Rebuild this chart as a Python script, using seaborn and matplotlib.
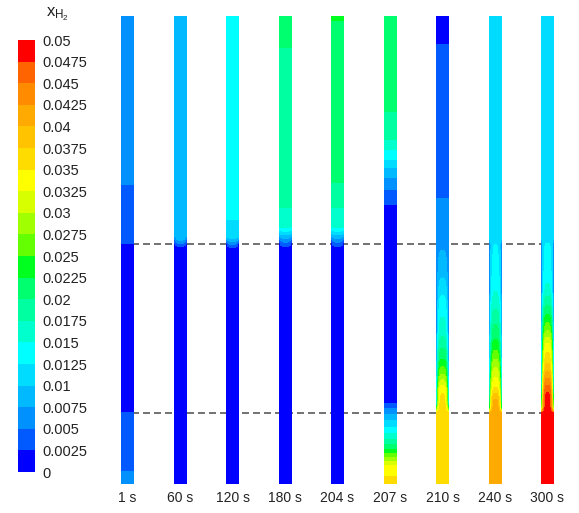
import numpy as np
import matplotlib
matplotlib.use("Agg")
import matplotlib.pyplot as plt
from matplotlib.colors import ListedColormap, BoundaryNorm
import seaborn as sns

# Snapshot times, one column each
TIMES = ["1 s", "60 s", "120 s", "180 s", "204 s", "207 s", "210 s", "240 s", "300 s"]

# Discrete colour levels of the hydrogen mole fraction (0 .. 0.05, step 0.0025)
LEVEL_BOUNDS = [0.0, 0.0025, 0.005, 0.0075, 0.01, 0.0125, 0.015, 0.0175, 0.02, 0.0225,
                0.025, 0.0275, 0.03, 0.0325, 0.035, 0.0375, 0.04, 0.0425, 0.045, 0.0475, 0.05]
LEVEL_COLORS = ["#0000ff", "#005aff", "#0091ff", "#00b9ff", "#00dcff", "#00ffff",
                "#00ffcd", "#00ffa0", "#00ff6e", "#00ff1e", "#64ff00", "#a0ff00",
                "#d7ff00", "#ffff00", "#ffdc00", "#ffc300", "#ffaa00", "#ff8c00",
                "#ff6400", "#ff0000"]

# Column height and the two zone interfaces (m)
COLUMN_HEIGHT = 4.68
INTERFACES = [0.71, 2.40]

# Axial profiles: heights (m), centre-line value, wall value
Z_1 = [0.00, 0.12, 0.13, 0.71, 0.72, 2.40, 2.41, 2.98, 2.99, 4.68]
C_1 = [0.00625, 0.00625, 0.00375, 0.00375, 0.00125, 0.00125, 0.00375, 0.00375, 0.00625, 0.00625]
W_1 = C_1

Z_60 = [0.00, 2.36, 2.40, 2.44, 2.48, 4.68]
C_60 = [0.00125, 0.00125, 0.00500, 0.00800, 0.00875, 0.00875]
W_60 = [0.00125, 0.00125, 0.00125, 0.00400, 0.00875, 0.00875]

Z_120 = [0.00, 2.35, 2.40, 2.44, 2.47, 2.48, 2.63, 2.65, 4.68]
C_120 = [0.00125, 0.00125, 0.0060, 0.0090, 0.01125, 0.01125, 0.01125, 0.01375, 0.01375]
W_120 = [0.00125, 0.00125, 0.00125, 0.0070, 0.0110, 0.01125, 0.01125, 0.01375, 0.01375]

Z_180 = [0.00, 2.35, 2.40, 2.58, 2.76, 2.77, 4.36, 4.37, 4.68]
C_180 = [0.00125, 0.00125, 0.0040, 0.01625, 0.01625, 0.01875, 0.01875, 0.02125, 0.02125]
W_180 = [0.00125, 0.00125, 0.00125, 0.0160, 0.01625, 0.01875, 0.01875, 0.02125, 0.02125]

Z_204 = [0.00, 2.35, 2.40, 2.58, 2.76, 2.77, 3.00, 3.01, 4.63, 4.64, 4.68]
C_204 = [0.00125, 0.00125, 0.0040, 0.01625, 0.01625, 0.01875, 0.01875, 0.02125, 0.02125, 0.02375, 0.02375]
W_204 = [0.00125, 0.00125, 0.00125, 0.0160, 0.01625, 0.01875, 0.01875, 0.02125, 0.02125, 0.02375, 0.02375]

Z_207 = [0.00, 0.06, 0.10, 0.17, 0.35, 0.45, 0.55, 0.65, 0.75, 0.81, 0.82,
         2.78, 2.79, 2.94, 3.06, 3.16, 3.24, 3.34, 3.44, 3.72, 3.73, 4.68]
C_207 = [0.03625, 0.03625, 0.03375, 0.0335, 0.0225, 0.0175, 0.0135, 0.0095, 0.0055, 0.0026, 0.00125,
         0.00125, 0.0024, 0.0051, 0.0076, 0.0101, 0.0126, 0.0151, 0.0176, 0.0199, 0.02125, 0.02125]
W_207 = C_207

Z_210 = [0.00, 0.70, 0.71, 0.80, 0.95, 1.10, 1.25, 1.50, 1.85, 2.10, 2.40, 2.45,
         2.86, 2.87, 4.40, 4.41, 4.68]
C_210 = [0.03625, 0.03625, 0.0365, 0.0362, 0.0345, 0.0275, 0.0225, 0.0170, 0.0130, 0.0095, 0.0070, 0.00625,
         0.00625, 0.00375, 0.00375, 0.00125, 0.00125]
W_210 = [0.03625, 0.03625, 0.0360, 0.0120, 0.0090, 0.0070, 0.0055, 0.0045, 0.0040, 0.0040, 0.0050, 0.00625,
         0.00625, 0.00375, 0.00375, 0.00125, 0.00125]

Z_240 = [0.00, 0.70, 0.71, 0.76, 0.85, 0.97, 1.15, 1.30, 1.45, 1.60, 1.90, 2.15, 2.40, 2.45, 4.68]
C_240 = [0.04125, 0.04125, 0.0415, 0.0412, 0.0400, 0.0350, 0.0305, 0.0260, 0.0225, 0.0200, 0.0152, 0.0135,
         0.0125, 0.01125, 0.01125]
W_240 = [0.04125, 0.04125, 0.0410, 0.0200, 0.0150, 0.0120, 0.0090, 0.0075, 0.0065, 0.0060, 0.0050, 0.0045,
         0.0050, 0.01125, 0.01125]

Z_300 = [0.00, 0.70, 0.71, 0.76, 0.92, 1.05, 1.15, 1.40, 1.55, 1.75, 1.95, 2.20, 2.40, 2.45, 4.68]
C_300 = [0.04875, 0.04875, 0.0490, 0.0488, 0.0476, 0.0430, 0.0390, 0.0330, 0.0270, 0.0210, 0.0155, 0.0135,
         0.0128, 0.01125, 0.01125]
W_300 = [0.04875, 0.04875, 0.0487, 0.0220, 0.0140, 0.0100, 0.0085, 0.0065, 0.0055, 0.0050, 0.0045, 0.0045,
         0.0050, 0.01125, 0.01125]

PROFILES = [(Z_1, C_1, W_1), (Z_60, C_60, W_60), (Z_120, C_120, W_120),
            (Z_180, C_180, W_180), (Z_204, C_204, W_204), (Z_207, C_207, W_207),
            (Z_210, C_210, W_210), (Z_240, C_240, W_240), (Z_300, C_300, W_300)]

COLUMN_WIDTH = 0.23
TEXT_COLOR = "#222222"

sns.set_theme(style="white")
plt.rcParams["font.family"] = ["Liberation Sans", "DejaVu Sans"]
plt.rcParams["mathtext.default"] = "regular"

W_PX, H_PX = 579, 513
fig = plt.figure(figsize=(W_PX / 100, H_PX / 100), dpi=100)
fig.patch.set_facecolor("white")

ax = fig.add_axes([101.25 / W_PX, 29 / H_PX, 472.5 / W_PX, 468 / H_PX])
cax = fig.add_axes([18 / W_PX, 41 / H_PX, 17 / W_PX, 432 / H_PX])

levels = np.array(LEVEL_BOUNDS)
cmap = ListedColormap(LEVEL_COLORS)
norm = BoundaryNorm(levels, cmap.N)

# Cross-section: values blend from the wall value to the centre-line value
xs = np.linspace(-0.5, 0.5, 61)
lateral = 1.0 - (2.0 * xs) ** 4
zs = np.linspace(0.0, COLUMN_HEIGHT, 1400)

for i, (z, c, w) in enumerate(PROFILES):
    centre = np.interp(zs, z, c)
    wall = np.interp(zs, z, w)
    field = wall[:, None] + (centre - wall)[:, None] * lateral[None, :]
    ax.imshow(field, cmap=cmap, norm=norm, origin="lower", aspect="auto",
              interpolation="nearest",
              extent=(i - COLUMN_WIDTH / 2, i + COLUMN_WIDTH / 2, 0, COLUMN_HEIGHT),
              zorder=2)

ax.hlines(INTERFACES, -COLUMN_WIDTH / 2, len(TIMES) - 1 + COLUMN_WIDTH / 2,
          colors="#5a5a5a", linestyles=(0, (4.2, 2.4)), linewidth=1.2, zorder=1)

ax.set_xlim(-0.5, len(TIMES) - 0.5)
ax.set_ylim(0, COLUMN_HEIGHT)
ax.set_xticks(range(len(TIMES)))
ax.set_xticklabels(TIMES)
ax.set_yticks([])
for s in ax.spines.values():
    s.set_visible(False)
ax.tick_params(axis="x", length=0, pad=5, labelsize=10, labelcolor=TEXT_COLOR)
ax.set_facecolor("white")

# Legend bar with one cell per level
mids = (levels[:-1] + levels[1:]) / 2
sns.heatmap(mids[::-1].reshape(-1, 1), ax=cax, cmap=cmap, norm=norm,
            cbar=False, xticklabels=False, yticklabels=False)
cax.set_yticks(np.arange(len(levels)))
cax.set_yticklabels([f"{v:g}" for v in levels[::-1]], rotation=0)
cax.yaxis.tick_right()
cax.tick_params(axis="y", length=0, pad=5.5, labelsize=10.5, labelcolor=TEXT_COLOR)
for s in cax.spines.values():
    s.set_visible(False)

fig.text(46 / W_PX, 1 - 5 / H_PX, r"x$_{H_2}$", ha="left", va="top",
         fontsize=12, color=TEXT_COLOR)

fig.savefig("out.png", dpi=100, facecolor="white")
